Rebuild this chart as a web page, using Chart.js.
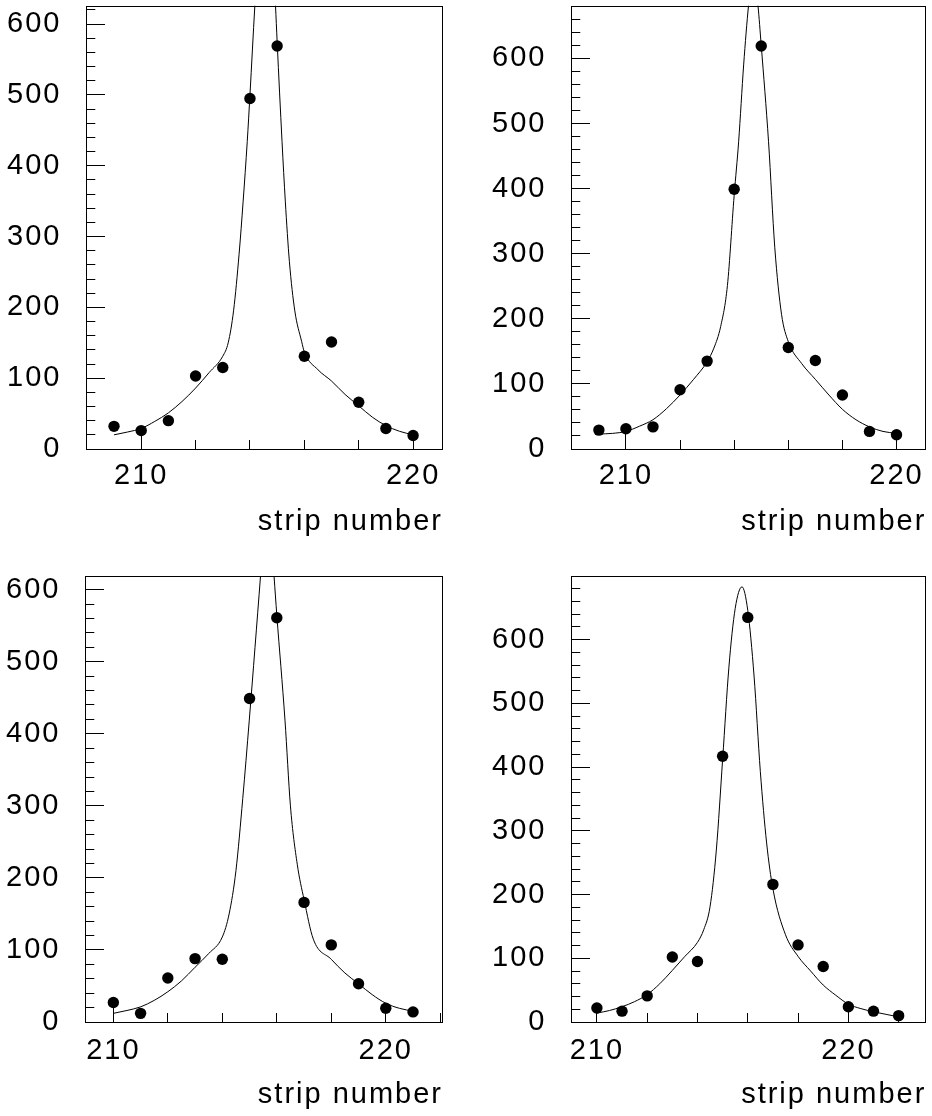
<!DOCTYPE html>
<html>
<head>
<meta charset="utf-8">
<script src="https://cdn.jsdelivr.net/npm/chart.js@4.4.1/dist/chart.umd.min.js"></script>
<style>
  html, body { margin: 0; padding: 0; background: #fff; }
  #wrap { position: relative; width: 932px; height: 1116px; }
  #wrap canvas { position: absolute; }
</style>
</head>
<body>
<div id="wrap">
  <canvas id="c1" width="466" height="558" style="left:0;top:0"></canvas>
  <canvas id="c2" width="466" height="558" style="left:466px;top:0"></canvas>
  <canvas id="c3" width="466" height="558" style="left:0;top:558px"></canvas>
  <canvas id="c4" width="466" height="558" style="left:466px;top:558px"></canvas>
</div>
<script>
// ---- data ----
const strips1 = [209, 210, 211, 212, 213, 214, 215, 216, 217, 218, 219, 220];
const counts1 = [32, 26, 40, 103, 115, 495, 569, 131, 151, 66, 29, 19];
const fitX1 = [209, 209.5, 210, 210.5, 211, 211.5, 212, 212.5, 213, 213.2, 213.4, 213.6, 213.75, 213.9, 214, 214.18, 214.3, 214.45, 214.57, 214.7, 214.8, 214.94, 215, 215.18, 215.3, 215.45, 215.65, 215.9, 216, 216.5, 217, 217.5, 218, 218.5, 219, 219.5, 220];
const fitY1 = [20, 24, 29, 39, 51, 67, 86, 108, 131, 150, 196, 275, 350, 434, 500, 626, 700, 810, 850, 810, 730, 626, 575, 434, 350, 265, 195, 152, 137, 112, 96, 77, 61, 45, 33, 25, 20];

const strips2 = [209, 210, 211, 212, 213, 214, 215, 216, 217, 218, 219, 220];
const counts2 = [29, 31, 34, 91, 135, 399, 619, 156, 136, 83, 27, 22];
const fitX2 = [209, 209.5, 210, 210.5, 211, 211.5, 212, 212.5, 213, 213.25, 213.5, 213.75, 214, 214.165, 214.35, 214.53, 214.71, 214.88, 215, 215.27, 215.5, 215.75, 216, 216.5, 217, 217.5, 218, 218.5, 219, 219.5, 220];
const fitY2 = [23, 24, 27, 35, 45, 62, 83, 107, 134, 155, 188, 251, 390, 472, 590, 681, 740, 681, 620, 472, 310, 207, 165, 131, 107, 83, 61, 45, 34, 27, 24];

const strips3 = [210, 211, 212, 213, 214, 215, 216, 217, 218, 219, 220, 221];
const counts3 = [27, 12, 61, 88, 87, 449, 561, 166, 107, 53, 19, 14];
const fitX3 = [210, 210.5, 211, 211.5, 212, 212.5, 213, 213.5, 214, 214.25, 214.5, 214.75, 214.99, 215.2, 215.4, 215.52, 215.65, 215.78, 215.9, 216, 216.3, 216.5, 216.75, 217, 217.34, 218, 218.5, 219, 219.5, 220, 220.5, 221];
const fitY3 = [12, 16, 21, 30, 42, 57, 76, 95, 118, 150, 210, 310, 419, 520, 618, 680, 710, 680, 618, 565, 419, 300, 219, 170, 115, 87, 68, 53, 38, 26, 19, 15];

const strips4 = [210, 211, 212, 213, 214, 215, 216, 217, 218, 219, 220, 221, 222];
const counts4 = [22, 17, 41, 102, 95, 417, 635, 216, 121, 87, 24, 17, 10];
const fitX4 = [210, 210.5, 211, 211.5, 212, 212.5, 213, 213.5, 214, 214.25, 214.5, 214.75, 215, 215.25, 215.5, 215.77, 216, 216.25, 216.5, 216.75, 217, 217.5, 218, 218.5, 219, 219.5, 220, 220.5, 221, 221.5, 222];
const fitY4 = [14, 18, 24, 32, 43, 60, 81, 103, 125, 145, 181, 270, 412, 557, 649, 683, 646, 543, 393, 281, 209, 137, 103, 80, 58, 42, 28, 21, 16, 12, 8];

// ---- ticks ----
const xMajorTicks = [210, 220];
const xMinorTicks = [210, 212, 214, 216, 218, 220, 222];
const yMajorTicks = [0, 100, 200, 300, 400, 500, 600];
const yMinorTicks = [0, 20, 40, 60, 80, 100, 120, 140, 160, 180, 200, 220, 240, 260, 280, 300, 320, 340, 360, 380, 400, 420, 440, 460, 480, 500, 520, 540, 560, 580, 600, 620, 640, 660, 680, 700];

const FONT = { family: "'Liberation Sans', Arial, sans-serif", size: 29 };

function toPoints(xs, ys) {
  return xs.map((x, i) => ({ x: x, y: ys[i] }));
}

function onlyTicks(list, lo, hi) {
  return s => { s.ticks = list.filter(v => v >= lo && v <= hi).map(v => ({ value: v })); };
}

// fixed axis box, no extra label padding
function fixSize(w, h) {
  return s => {
    if (w !== null) s.width = w;
    if (h !== null) s.height = h;
    s.paddingTop = s.paddingBottom = s.paddingLeft = s.paddingRight = 0;
  };
}

// frame box + slightly wider text tracking like the original
const framePlugin = {
  id: "frame",
  beforeDraw(chart) {
    chart.ctx.letterSpacing = "2px";
  },
  afterDraw(chart) {
    const a = chart.chartArea, ctx = chart.ctx;
    ctx.save();
    ctx.strokeStyle = "#000";
    ctx.lineWidth = 1;
    ctx.strokeRect(Math.round(a.left) + 0.5, Math.round(a.top) + 0.5,
      Math.round(a.right - a.left) - 1, Math.round(a.bottom - a.top));
    ctx.restore();
  }
};

function panel(id, strips, counts, fitX, fitY, g) {
  new Chart(document.getElementById(id), {
    type: "scatter",
    data: {
      datasets: [{
        data: toPoints(strips, counts),
        pointRadius: 5.7,
        pointHoverRadius: 5.7,
        pointBackgroundColor: "#000",
        pointBorderWidth: 0
      }, {
        data: toPoints(fitX, fitY),
        showLine: true,
        pointRadius: 0,
        borderColor: "#000",
        borderWidth: 1,
        cubicInterpolationMode: "monotone",
        fill: false
      }]
    },
    options: {
      responsive: false,
      animation: false,
      events: [],
      layout: { padding: { left: 0, top: g.top, right: 466 - g.right, bottom: 0 } },
      plugins: { legend: { display: false }, tooltip: { enabled: false } },
      scales: {
        xm: {
          type: "linear", position: "bottom", weight: 0,
          min: g.xMin, max: g.xMax,
          afterBuildTicks: onlyTicks(xMinorTicks, g.xMin, g.xMax),
          afterFit: fixSize(null, 0),
          ticks: { display: false },
          grid: { drawOnChartArea: false, tickLength: -9, tickColor: "#000" },
          border: { display: false }
        },
        ym: {
          type: "linear", position: "left", weight: 0,
          min: 0, max: g.yMax,
          afterBuildTicks: onlyTicks(yMinorTicks, 0, g.yMax),
          afterFit: fixSize(0, null),
          ticks: { display: false },
          grid: { drawOnChartArea: false, tickLength: -9.3, tickColor: "#000" },
          border: { display: false }
        },
        x: {
          type: "linear", position: "bottom", weight: 1,
          min: g.xMin, max: g.xMax,
          afterBuildTicks: onlyTicks(xMajorTicks, g.xMin, g.xMax),
          afterFit: fixSize(null, 558 - g.bottom),
          ticks: { font: FONT, color: "#000", padding: g.tickPad, maxRotation: 0, autoSkip: false },
          grid: { drawOnChartArea: false, tickLength: -18, tickColor: "#000" },
          border: { display: false },
          title: {
            display: true, text: "strip number", align: "end",
            font: FONT, color: "#000",
            padding: { top: 0, bottom: g.titlePad }
          }
        },
        y: {
          type: "linear", position: "left", weight: 1,
          min: 0, max: g.yMax,
          afterBuildTicks: onlyTicks(yMajorTicks, 0, g.yMax),
          afterFit: fixSize(g.left, null),
          ticks: { font: FONT, color: "#000", padding: 43.5, autoSkip: false },
          grid: { drawOnChartArea: false, tickLength: -19, tickColor: "#000" },
          border: { display: false }
        }
      }
    },
    plugins: [framePlugin]
  });
}

panel("c1", strips1, counts1, fitX1, fitY1,
  { left: 86, right: 443, top: 3, bottom: 449, xMin: 207.97, xMax: 221.1, yMax: 626, tickPad: 27.6, titlePad: 19.1 });
panel("c2", strips2, counts2, fitX2, fitY2,
  { left: 105, right: 462, top: 3, bottom: 449, xMin: 207.97, xMax: 221.1, yMax: 681, tickPad: 27.6, titlePad: 19.1 });
panel("c3", strips3, counts3, fitX3, fitY3,
  { left: 85, right: 443, top: 18, bottom: 464, xMin: 208.96, xMax: 222.1, yMax: 619, tickPad: 29.4, titlePad: 3.5 });
panel("c4", strips4, counts4, fitX4, fitY4,
  { left: 105, right: 462, top: 18, bottom: 464, xMin: 208.97, xMax: 223.1, yMax: 700, tickPad: 29.4, titlePad: 3.5 });
</script>
</body>
</html>
